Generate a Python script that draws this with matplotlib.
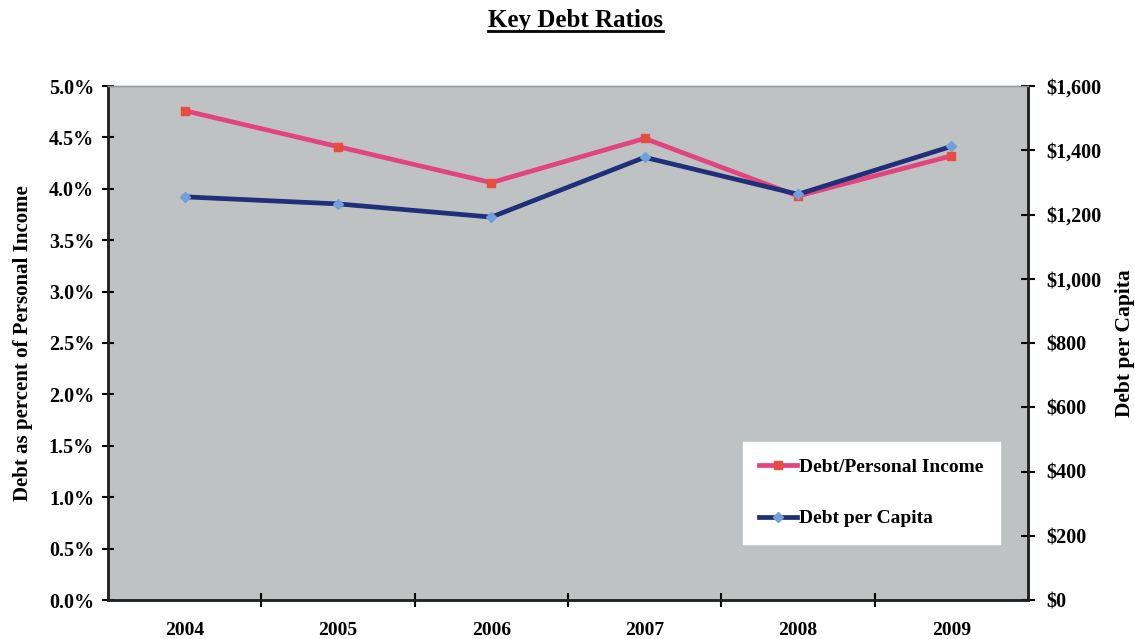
import matplotlib.pyplot as plt
from matplotlib.lines import Line2D
from matplotlib.ticker import FuncFormatter, MultipleLocator

years = ["2004", "2005", "2006", "2007", "2008", "2009"]
debt_income = [4.76, 4.41, 4.06, 4.49, 3.93, 4.32]
debt_capita = [1255, 1233, 1192, 1378, 1263, 1412]

plt.rcParams['font.family'] = ['Liberation Serif', 'DejaVu Serif']
plt.rcParams['font.weight'] = 'bold'

fig = plt.figure(figsize=(11.35, 6.39), dpi=100)
ax = fig.add_axes([108 / 1135, 39 / 639, 920 / 1135, 514 / 639])
ax2 = ax.twinx()

x = list(range(len(years)))
ax.set_facecolor("#bfc2c3")

ax.plot(x, debt_income, color="#e2447f", lw=3.4, marker="s", ms=5.5,
        mfc="#e84c3d", mec="#e84c3d", label="Debt/Personal Income", zorder=3)
ax2.plot(x, debt_capita, color="#1f2f7a", lw=3.4, marker="D", ms=5.5,
         mfc="#6fa0dc", mec="#6fa0dc", label="Debt per Capita", zorder=3)

ax.set_xlim(-0.5, len(years) - 0.5)
ax.set_ylim(0, 5)
ax2.set_ylim(0, 1600)
ax.yaxis.set_major_locator(MultipleLocator(0.5))
ax2.yaxis.set_major_locator(MultipleLocator(200))
ax.yaxis.set_major_formatter(FuncFormatter(lambda v, p: f"{v:.1f}%"))
ax2.yaxis.set_major_formatter(FuncFormatter(lambda v, p: f"${v:,.0f}"))

# category labels centred, ticks at boundaries
ax.set_xticks([i + 0.5 for i in x[:-1]])
ax.set_xticklabels([])
ax.set_xticks(x, minor=True)
ax.set_xticklabels(years, minor=True, fontsize=14, fontweight="bold")
ax.tick_params(axis="x", which="minor", length=0, pad=16)
ax.tick_params(axis="x", which="major", direction="inout", length=10, width=1.5)
ax.tick_params(axis="y", direction="inout", length=8, width=1.5, labelsize=14.5, pad=6)
ax2.tick_params(axis="y", direction="inout", length=10, width=1.5, labelsize=14.5, pad=8)

for a in (ax, ax2):
    a.spines["top"].set_color("#999999")
    a.spines["top"].set_linewidth(1)
    for s in ("left", "right", "bottom"):
        a.spines[s].set_linewidth(1.8)
        a.spines[s].set_color("#222222")

ax.set_ylabel("Debt as percent of Personal Income", fontsize=15, fontweight="bold", labelpad=11)
ax2.set_ylabel("Debt per Capita", fontsize=15.5, fontweight="bold", labelpad=10)

# title with underline
title = fig.text(575 / 1135, 1 - 20 / 639, "Key Debt Ratios", ha="center", va="center",
                 fontsize=18, fontweight="bold")
fig.canvas.draw()
bb = title.get_window_extent().transformed(fig.transFigure.inverted())
fig.add_artist(Line2D([bb.x0, bb.x1], [bb.y0 + 0.001, bb.y0 + 0.001], color="black", lw=2,
                      transform=fig.transFigure))

h1, l1 = ax.get_legend_handles_labels()
h2, l2 = ax2.get_legend_handles_labels()
leg = ax2.legend(h1 + h2, l1 + l2, loc="lower right", bbox_to_anchor=(0.9696, 0.109),
                 fontsize=14, frameon=True, fancybox=False, framealpha=1,
                 edgecolor="white", facecolor="white", handlelength=1.95,
                 handletextpad=0.1, labelspacing=1.75, borderpad=0.85, borderaxespad=0)
for t in leg.get_texts():
    t.set_fontweight("bold")

fig.savefig("out.png", dpi=100)
